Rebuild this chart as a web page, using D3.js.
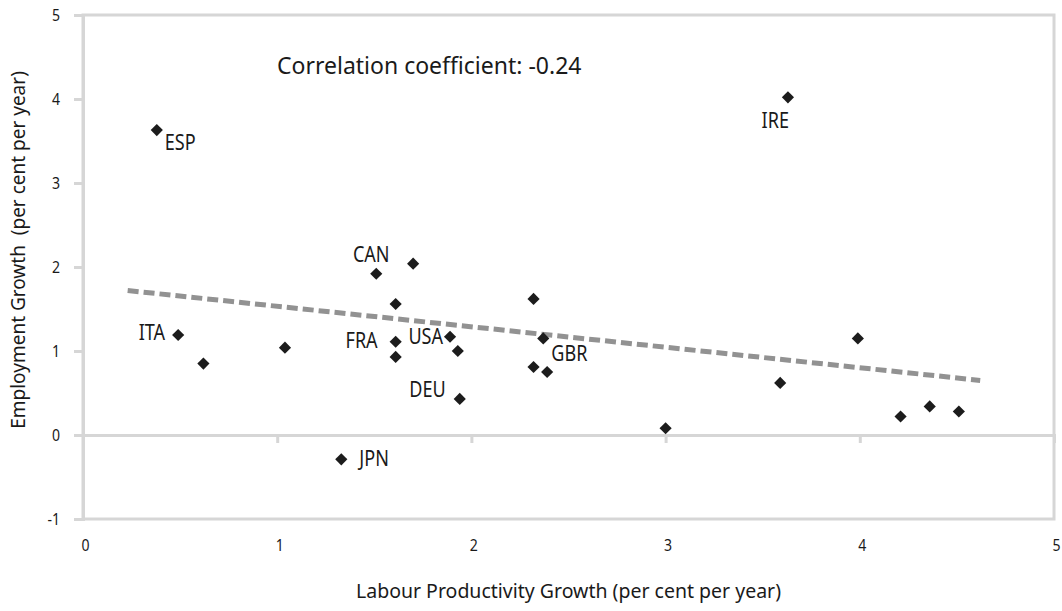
<!DOCTYPE html>
<html>
<head>
<meta charset="utf-8">
<script src="https://cdn.jsdelivr.net/npm/d3@7"></script>
<style>
  body { margin: 0; background: #fff; }
  text { font-family: "Noto Sans", sans-serif; fill: #1a1a1a; }
</style>
</head>
<body>
<svg id="chart" width="1062" height="611"></svg>
<script>
// Country codes (blank where the point carries no label)
const countries = ["ESP", "IRE", "CAN", "", "", "", "ITA", "", "", "FRA", "", "USA",
                   "", "GBR", "", "", "DEU", "JPN", "", "", "", "", "", ""];
// Labour productivity growth, per cent per year
const productivity = [0.38, 3.63, 1.51, 1.70, 1.61, 2.32, 0.49, 0.62, 1.04, 1.61, 1.61, 1.89,
                      1.93, 2.37, 2.32, 2.39, 1.94, 1.33, 3.00, 3.59, 3.99, 4.21, 4.36, 4.51];
// Employment growth, per cent per year
const employment = [3.63, 4.02, 1.92, 2.04, 1.56, 1.62, 1.19, 0.85, 1.04, 1.11, 0.93, 1.17,
                    1.00, 1.15, 0.81, 0.75, 0.43, -0.29, 0.08, 0.62, 1.15, 0.22, 0.34, 0.28];

// Linear trend end points
const trendX = [0.23, 4.62];
const trendY = [1.72, 0.65];

const xTicks = [0, 1, 2, 3, 4, 5];
const xTickLabels = ["0", "1", "2", "3", "4", "5"];
const yTicks = [-1, 0, 1, 2, 3, 4, 5];
const yTickLabels = ["-1", "0", "1", "2", "3", "4", "5"];

const xTitle = "Labour Productivity Growth (per cent per year)";
const yTitle = "Employment Growth\u00a0 (per cent per year)";
const note = "Correlation coefficient: -0.24";

// Where each country label sits relative to its marker
const labelPlacement = {
  ESP: { anchor: "start", dx: 8,   dy: 12 },
  IRE: { anchor: "end",   dx: 1,   dy: 23 },
  CAN: { anchor: "middle",dx: -5,  dy: -19 },
  ITA: { anchor: "end",   dx: -13, dy: -3 },
  FRA: { anchor: "end",   dx: -18, dy: -1 },
  USA: { anchor: "end",   dx: -7,  dy: 0 },
  GBR: { anchor: "start", dx: 8,   dy: 15 },
  DEU: { anchor: "end",   dx: -14, dy: -9 },
  JPN: { anchor: "start", dx: 18,  dy: -1 }
};

const svg = d3.select("#chart");
const plot = { left: 83, right: 1054, top: 15, bottom: 519 };
const axisGrey = "#d6d6d6";

const x = d3.scaleLinear().domain([0, 5]).range([plot.left, plot.right]);
const y = d3.scaleLinear().domain([-1, 5]).range([plot.bottom, plot.top]);

const points = productivity.map((p, i) => ({ code: countries[i], px: p, ey: employment[i] }));

// Plot frame
svg.append("rect")
  .attr("x", plot.left).attr("y", plot.top)
  .attr("width", plot.right - plot.left).attr("height", plot.bottom - plot.top)
  .attr("fill", "none").attr("stroke", axisGrey).attr("stroke-width", 3);

// Horizontal zero line with x tick marks hanging below it
const xZero = svg.append("g")
  .attr("transform", `translate(0,${y(0)})`)
  .call(d3.axisBottom(x).tickValues(xTicks.slice(1, -1)).tickSize(8).tickFormat(""));
xZero.select(".domain").attr("stroke", axisGrey).attr("stroke-width", 3);
xZero.selectAll(".tick line").attr("stroke", axisGrey).attr("stroke-width", 3);

// X tick labels along the bottom
const xLab = svg.append("g")
  .attr("transform", `translate(0,${plot.bottom})`)
  .call(d3.axisBottom(x).tickValues(xTicks).tickSize(0).tickPadding(0)
        .tickFormat((d, i) => xTickLabels[i]));
xLab.select(".domain").remove();
xLab.selectAll(".tick text")
  .attr("y", 0).attr("dy", 0)
  .attr("font-size", 16).style("font-family", "'Noto Sans', sans-serif").attr("fill", "#1a1a1a")
  .attr("transform", "translate(2,32) scale(0.88,1)");

// Y axis
const yAx = svg.append("g")
  .attr("transform", `translate(${plot.left},0)`)
  .call(d3.axisLeft(y).tickValues(yTicks).tickSize(9).tickPadding(0)
        .tickFormat((d, i) => yTickLabels[i]));
yAx.select(".domain").attr("stroke", axisGrey).attr("stroke-width", 3);
yAx.selectAll(".tick line").attr("stroke", axisGrey).attr("stroke-width", 3);
yAx.selectAll(".tick text")
  .attr("x", 0).attr("dy", 0)
  .attr("font-size", 16).style("font-family", "'Noto Sans', sans-serif").attr("fill", "#1a1a1a")
  .attr("transform", "translate(-23,5.7) scale(0.88,1)");

// Trend line
svg.append("line")
  .attr("x1", x(trendX[0])).attr("y1", y(trendY[0]))
  .attr("x2", x(trendX[1])).attr("y2", y(trendY[1]))
  .attr("stroke", "#929292").attr("stroke-width", 5)
  .attr("stroke-dasharray", "11,5");

// Diamond markers
const diamond = d3.symbol().type(d3.symbolSquare).size(74);
svg.append("g").selectAll("path")
  .data(points)
  .join("path")
  .attr("d", diamond)
  .attr("transform", d => `translate(${x(d.px)},${y(d.ey)}) rotate(45)`)
  .attr("fill", "#1c1c1c");

// Country labels
svg.append("g").selectAll("text")
  .data(points.filter(d => d.code))
  .join("text")
  .attr("transform", d => {
    const p = labelPlacement[d.code];
    return `translate(${x(d.px) + p.dx},${y(d.ey) + p.dy + 7.5}) scale(0.86,1)`;
  })
  .attr("text-anchor", d => labelPlacement[d.code].anchor)
  .attr("font-size", 21)
  .text(d => d.code);

// Correlation note
svg.append("text")
  .attr("x", 277).attr("y", 74)
  .attr("font-size", 23)
  .text(note);

// Axis titles
svg.append("text")
  .attr("x", (plot.left + plot.right) / 2).attr("y", 598)
  .attr("text-anchor", "middle")
  .attr("font-size", 19.5)
  .text(xTitle);

svg.append("text")
  .attr("transform", `translate(25,250) rotate(-90)`)
  .attr("text-anchor", "middle")
  .attr("font-size", 19)
  .text(yTitle);
</script>
</body>
</html>
